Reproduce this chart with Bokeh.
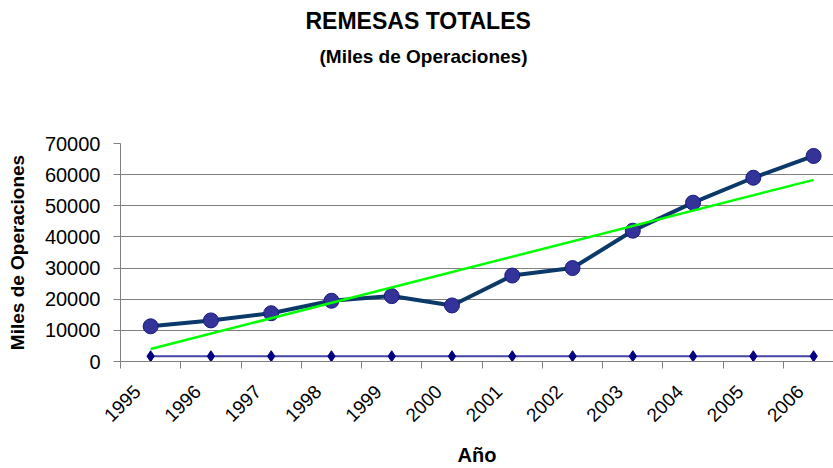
import numpy as np
from bokeh.plotting import figure
from bokeh.models import Range1d, FixedTicker, Title, NumeralTickFormatter
from bokeh.embed import file_html
from bokeh.resources import INLINE

# ---- data ----
years = ["1995", "1996", "1997", "1998", "1999", "2000",
         "2001", "2002", "2003", "2004", "2005", "2006"]
remesas = [11300, 13200, 15500, 19500, 21000, 18000,
           27600, 30000, 42000, 51000, 59000, 66000]
serie2 = [1700] * 12
y_ticks = [0, 10000, 20000, 30000, 40000, 50000, 60000, 70000]

xpos = [i + 0.5 for i in range(len(years))]
coef = np.polyfit(np.arange(len(years)), remesas, 1)
trend_x = [xpos[0], xpos[-1]]
trend_y = [coef[1], coef[1] + coef[0] * (len(years) - 1)]

FONT = "Liberation Sans"

p = figure(width=833, height=468, output_backend="svg", toolbar_location=None,
           x_range=Range1d(0, 11.83), y_range=Range1d(0, 70000),
           min_border_left=120, min_border_right=0, min_border_top=0, min_border_bottom=0)
p.title.text = ""
p.outline_line_color = None
p.background_fill_color = "white"
p.border_fill_color = "white"

# titles (added from frame outward)
p.add_layout(Title(text=" ", text_font_size="54px", text_font=FONT), "above")
p.add_layout(Title(text="(Miles de Operaciones)", text_font=FONT, text_font_size="19px",
                   text_font_style="bold", align="left", offset=199, text_color="black"), "above")
p.add_layout(Title(text="REMESAS TOTALES", text_font=FONT, text_font_size="23px",
                   text_font_style="bold", align="left", offset=185, text_color="black"), "above")

# grid
p.xgrid.grid_line_color = None
p.ygrid.grid_line_color = "#808080"
p.ygrid.grid_line_width = 1
p.ygrid.ticker = FixedTicker(ticks=y_ticks)

# y axis
p.yaxis.ticker = FixedTicker(ticks=y_ticks)
p.yaxis.formatter = NumeralTickFormatter(format="0")
p.yaxis.axis_label = "Miles de Operaciones"
p.yaxis.axis_label_text_font = FONT
p.yaxis.axis_label_text_font_size = "19px"
p.yaxis.axis_label_text_font_style = "bold"
p.yaxis.axis_label_text_color = "black"
p.yaxis.axis_label_standoff = 14
p.yaxis.major_label_text_font = FONT
p.yaxis.major_label_text_font_size = "20px"
p.yaxis.major_label_text_color = "black"
p.yaxis.major_label_standoff = 13
p.yaxis.axis_line_color = "#808080"
p.yaxis.major_tick_line_color = "#808080"
p.yaxis.major_tick_out = 7
p.yaxis.major_tick_in = 0
p.yaxis.minor_tick_line_color = None

# x axis (labels anchored slightly left of category centre, as in the source)
label_pos = [x - 0.22 for x in xpos]
p.xaxis.ticker = FixedTicker(ticks=label_pos, minor_ticks=list(range(0, 13)))
p.xaxis.major_label_overrides = {x: y for x, y in zip(label_pos, years)}
p.xaxis.major_label_orientation = np.pi / 4
p.xaxis.major_label_text_font = FONT
p.xaxis.major_label_text_font_size = "19px"
p.xaxis.major_label_text_color = "black"
p.xaxis.major_label_standoff = 20
p.xaxis.major_tick_line_color = None
p.xaxis.major_tick_out = 0
p.xaxis.major_tick_in = 0
p.xaxis.minor_tick_line_color = "#808080"
p.xaxis.minor_tick_out = 7
p.xaxis.minor_tick_in = 0
p.xaxis.axis_line_color = "#808080"
p.xaxis.axis_label = "Año"
p.xaxis.axis_label_text_font = FONT
p.xaxis.axis_label_text_font_size = "20px"
p.xaxis.axis_label_text_font_style = "bold"
p.xaxis.axis_label_text_color = "black"
p.xaxis.axis_label_standoff = 13

# series 2 (constant, diamonds)
p.line(xpos, serie2, line_color="#4646a8", line_width=2)
p.scatter(xpos, serie2, marker="diamond", size=11, fill_color="#000080", line_color="#000080")

# main series
p.line(xpos, remesas, line_color="#0b3a6a", line_width=4)
p.scatter(xpos, remesas, marker="circle", size=15, fill_color="#333399", line_color="#1a1a80", line_width=1)

# trend line
p.line(trend_x, trend_y, line_color="#00ff00", line_width=2.5)

open("out.html", "w").write(file_html(p, INLINE))
